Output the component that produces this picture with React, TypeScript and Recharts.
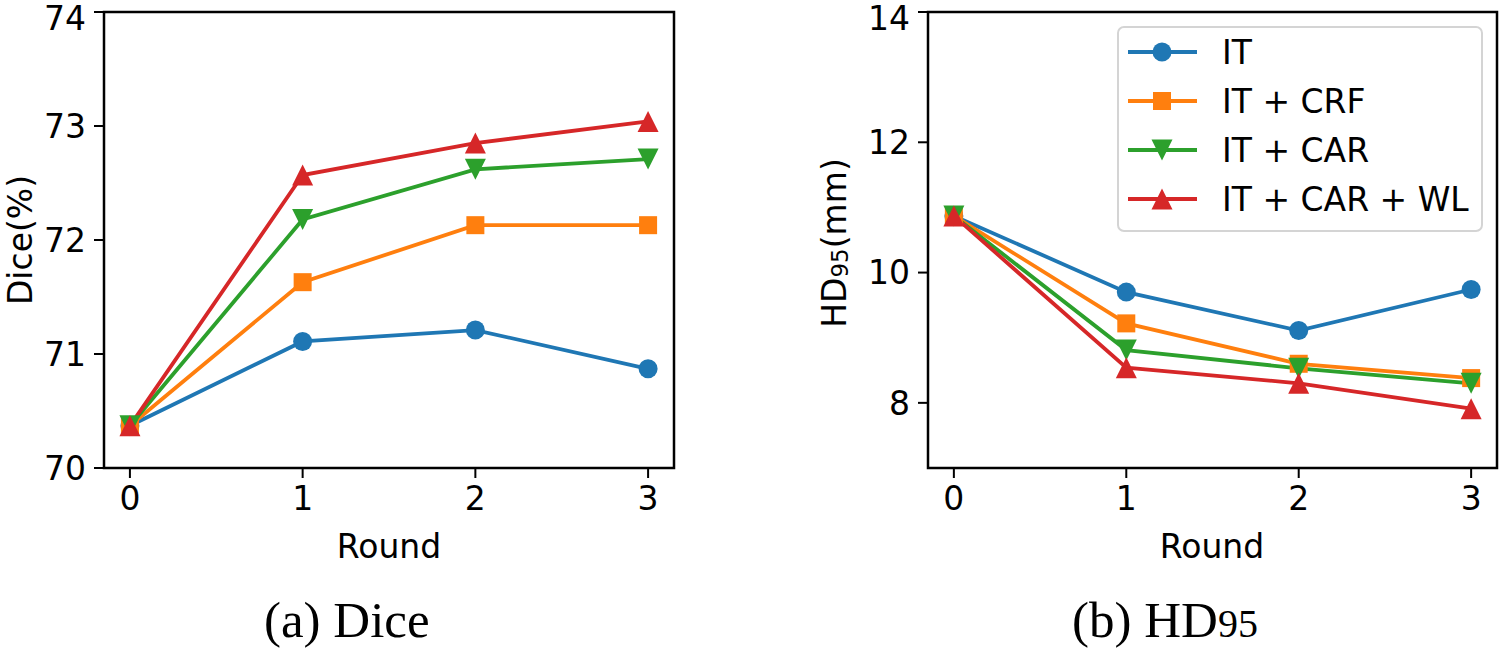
import { LineChart, Line, XAxis, YAxis, ReferenceArea, Legend } from "recharts";

const rounds = [0, 1, 2, 3];
const roundTicks = [0, 1, 2, 3];

const diceIT = [70.37, 71.11, 71.21, 70.87];
const diceCRF = [70.37, 71.63, 72.13, 72.13];
const diceCAR = [70.37, 72.18, 72.62, 72.71];
const diceWL = [70.37, 72.57, 72.85, 73.04];
const diceTicks = [70, 71, 72, 73, 74];

const hdIT = [10.87, 9.7, 9.11, 9.74];
const hdCRF = [10.87, 9.22, 8.6, 8.38];
const hdCAR = [10.87, 8.81, 8.53, 8.3];
const hdWL = [10.87, 8.54, 8.3, 7.91];
const hdTicks = [8, 10, 12, 14];

const series = [
  { key: "it", name: "IT", color: "#1f77b4", shape: "circle" },
  { key: "crf", name: "IT + CRF", color: "#ff7f0e", shape: "square" },
  { key: "car", name: "IT + CAR", color: "#2ca02c", shape: "down" },
  { key: "wl", name: "IT + CAR + WL", color: "#d62728", shape: "up" },
];

const diceData = rounds.map((r, i) => ({
  round: r,
  it: diceIT[i],
  crf: diceCRF[i],
  car: diceCAR[i],
  wl: diceWL[i],
}));

const hdData = rounds.map((r, i) => ({
  round: r,
  it: hdIT[i],
  crf: hdCRF[i],
  car: hdCAR[i],
  wl: hdWL[i],
}));

const FONT = "'DejaVu Sans', sans-serif";
const SERIF = "'Liberation Serif', 'Times New Roman', serif";
const FS = 33;

const Marker = ({ cx, cy, shape, color }: any) => {
  if (cx == null || cy == null) return null;
  if (shape === "circle") return <circle cx={cx} cy={cy} r={9.5} fill={color} />;
  if (shape === "square")
    return <rect x={cx - 9} y={cy - 9} width={18} height={18} fill={color} />;
  const s = 10.5;
  if (shape === "down")
    return (
      <polygon
        points={`${cx - s},${cy - s} ${cx + s},${cy - s} ${cx},${cy + s}`}
        fill={color}
      />
    );
  return (
    <polygon
      points={`${cx - s},${cy + s} ${cx + s},${cy + s} ${cx},${cy - s}`}
      fill={color}
    />
  );
};

const LegendBox = () => (
  <svg width={366} height={206} style={{ display: "block" }}>
    <rect
      x={1}
      y={1}
      width={364}
      height={204}
      rx={6}
      fill="#fff"
      fillOpacity={0.8}
      stroke="#d4d4d4"
      strokeWidth={2}
    />
    {series.map((s, i) => {
      const y = 26 + i * 49;
      return (
        <g key={s.key}>
          <line x1={11} x2={80} y1={y} y2={y} stroke={s.color} strokeWidth={3.8} />
          <Marker cx={45} cy={y} shape={s.shape} color={s.color} />
          <text
            x={105}
            y={y}
            dominantBaseline="central"
            fontFamily={FONT}
            fontSize={FS}
            fill="#000"
          >
            {s.name}
          </text>
        </g>
      );
    })}
  </svg>
);

const tickStyle = { fontFamily: FONT, fontSize: FS, fill: "#000" };

const Panel = ({ data, domain, ticks, yWidth, marginRight, withLegend }: any) => (
  <LineChart
    width={700}
    height={520}
    data={data}
    margin={{ top: 12, right: marginRight, left: 0, bottom: 0 }}
  >
    <XAxis
      dataKey="round"
      type="number"
      domain={[-0.15, 3.15]}
      ticks={roundTicks}
      allowDataOverflow
      height={52}
      axisLine={false}
      tickLine={{ stroke: "#000", strokeWidth: 2 }}
      tickSize={10}
      tickMargin={9}
      tick={tickStyle}
    />
    <YAxis
      type="number"
      domain={domain}
      ticks={ticks}
      allowDataOverflow
      width={yWidth}
      axisLine={false}
      tickLine={{ stroke: "#000", strokeWidth: 2 }}
      tickSize={10}
      tickMargin={8}
      tick={tickStyle}
    />
    <ReferenceArea
      x1={-0.15}
      x2={3.15}
      y1={domain[0]}
      y2={domain[1]}
      fill="none"
      stroke="#000"
      strokeWidth={2.5}
      ifOverflow="visible"
    />
    {series.map((s) => (
      <Line
        key={s.key}
        dataKey={s.key}
        name={s.name}
        stroke={s.color}
        strokeWidth={3.8}
        isAnimationActive={false}
        dot={(p: any) => (
          <Marker key={`${s.key}-${p.index}`} cx={p.cx} cy={p.cy} shape={s.shape} color={s.color} />
        )}
        activeDot={false}
      />
    ))}
    {withLegend && (
      <Legend
        layout="vertical"
        align="center"
        verticalAlign="middle"
        content={() => <LegendBox />}
        wrapperStyle={{ position: "absolute", left: 317, top: 26, width: 366, height: 206 }}
      />
    )}
  </LineChart>
);

const App = () => (
  <div
    style={{
      position: "absolute",
      left: 0,
      top: 0,
      width: 1500,
      height: 650,
      background: "#fff",
      overflow: "hidden",
    }}
  >
    <div style={{ position: "absolute", left: 0, top: 0 }}>
      <Panel data={diceData} domain={[70, 74]} ticks={diceTicks} yWidth={104} marginRight={26} />
    </div>
    <div style={{ position: "absolute", left: 800, top: 0 }}>
      <Panel
        data={hdData}
        domain={[7, 14]}
        ticks={hdTicks}
        yWidth={128}
        marginRight={3}
        withLegend
      />
    </div>
    <svg
      width={1500}
      height={650}
      style={{ position: "absolute", left: 0, top: 0, pointerEvents: "none" }}
    >
      <text
        transform="translate(20,240) rotate(-90)"
        textAnchor="middle"
        dominantBaseline="central"
        fontFamily={FONT}
        fontSize={FS}
        fill="#000"
      >
        Dice(%)
      </text>
      <text
        transform="translate(834,243) rotate(-90)"
        textAnchor="middle"
        dominantBaseline="central"
        fontFamily={FONT}
        fontSize={FS}
        fill="#000"
      >
        HD
        <tspan fontSize={23} dy={6}>
          95
        </tspan>
        <tspan dy={-6}>(mm)</tspan>
      </text>
      <text x={389} y={558} textAnchor="middle" fontFamily={FONT} fontSize={FS} fill="#000">
        Round
      </text>
      <text x={1212} y={558} textAnchor="middle" fontFamily={FONT} fontSize={FS} fill="#000">
        Round
      </text>
      <text x={264} y={637} fontFamily={SERIF} fontSize={51} fill="#000">
        (a) Dice
      </text>
      <text x={1072} y={637} fontFamily={SERIF} fontSize={51} fill="#000">
        (b) HD<tspan fontSize={40}>95</tspan>
      </text>
    </svg>
  </div>
);

export default App;
